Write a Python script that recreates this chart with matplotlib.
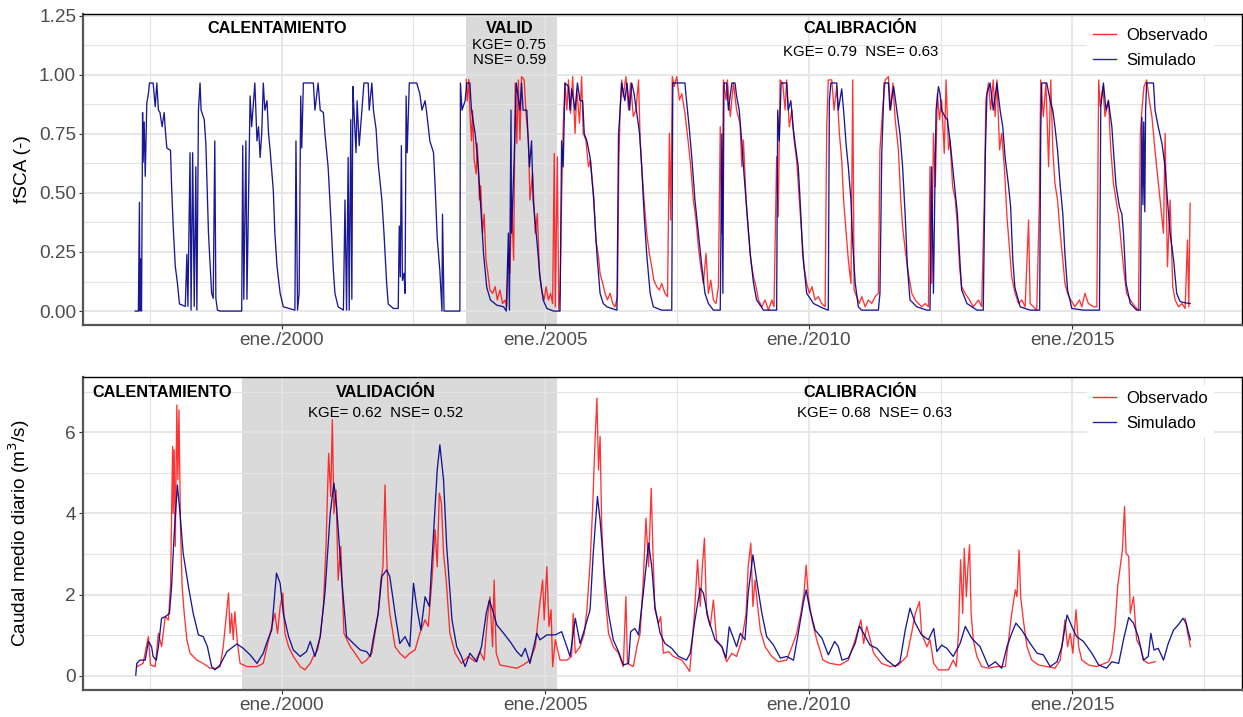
import numpy as np
import matplotlib
matplotlib.use("Agg")
import matplotlib.pyplot as plt
from matplotlib.lines import Line2D

plt.rcParams['font.family'] = ['Liberation Sans', 'DejaVu Sans']

# ---------------- datos (año decimal, valor) ----------------
# fSCA simulado
fsca_sim = [
    (1997.22, 0), (1997.28, 0), (1997.30, 0.46), (1997.31, 0), (1997.32, 0.22), (1997.34, 0),
    (1997.36, 0.84), (1997.37, 0.63), (1997.39, 0.80), (1997.41, 0.57), (1997.44, 0.88), (1997.47, 0.92),
    (1997.49, 0.965), (1997.56, 0.965), (1997.60, 0.865), (1997.63, 0.965), (1997.66, 0.85), (1997.69, 0.84),
    (1997.73, 0.78), (1997.77, 0.84), (1997.79, 0.77), (1997.82, 0.69), (1997.89, 0.68), (1997.91, 0.53),
    (1997.94, 0.36), (1997.98, 0.19), (1998.02, 0.12), (1998.06, 0.03), (1998.17, 0.02), (1998.20, 0.24),
    (1998.22, 0.02), (1998.26, 0.67), (1998.28, 0.004), (1998.31, 0.67), (1998.34, 0.02), (1998.37, 0.61),
    (1998.39, 0.004), (1998.42, 0.85), (1998.45, 0.965), (1998.47, 0.85), (1998.53, 0.81), (1998.56, 0.71),
    (1998.61, 0.33), (1998.64, 0.20), (1998.67, 0.075), (1998.70, 0.054), (1998.73, 0.72), (1998.75, 0.054),
    (1998.78, 0.004), (1998.83, 0), (1999.24, 0), (1999.26, 0.70), (1999.28, 0.05), (1999.32, 0.72),
    (1999.34, 0.05), (1999.40, 0.91), (1999.43, 0.78), (1999.49, 0.965), (1999.53, 0.72), (1999.56, 0.78),
    (1999.59, 0.65), (1999.62, 0.75), (1999.65, 0.965), (1999.68, 0.85), (1999.72, 0.89), (1999.75, 0.75),
    (1999.78, 0.68), (1999.84, 0.51), (1999.87, 0.33), (1999.91, 0.19), (1999.97, 0.075), (2000.03, 0.018),
    (2000.25, 0.004), (2000.27, 0.72), (2000.30, 0.004), (2000.33, 0.075), (2000.36, 0.91), (2000.38, 0.69),
    (2000.41, 0.965), (2000.60, 0.965), (2000.63, 0.85), (2000.69, 0.965), (2000.73, 0.85), (2000.79, 0.84),
    (2000.82, 0.75), (2000.88, 0.61), (2000.93, 0.40), (2000.98, 0.17), (2001.01, 0.075), (2001.07, 0.018),
    (2001.17, 0.004), (2001.20, 0.47), (2001.23, 0.004), (2001.26, 0.65), (2001.28, 0.004), (2001.31, 0.81),
    (2001.33, 0.05), (2001.35, 0.95), (2001.37, 0.85), (2001.41, 0.67), (2001.43, 0.89), (2001.47, 0.70),
    (2001.52, 0.85), (2001.56, 0.965), (2001.64, 0.965), (2001.66, 0.85), (2001.71, 0.965), (2001.74, 0.85),
    (2001.79, 0.77), (2001.83, 0.625), (2001.90, 0.47), (2001.94, 0.33), (2001.99, 0.12), (2002.02, 0.03),
    (2002.12, 0.011), (2002.21, 0.011), (2002.23, 0.36), (2002.25, 0.145), (2002.27, 0.70), (2002.29, 0.13),
    (2002.32, 0.16), (2002.34, 0.075), (2002.36, 0.91), (2002.38, 0.67), (2002.42, 0.965), (2002.56, 0.965),
    (2002.62, 0.92), (2002.66, 0.85), (2002.72, 0.89), (2002.75, 0.84), (2002.81, 0.72), (2002.88, 0.67),
    (2002.91, 0.53), (2002.95, 0.31), (2003.00, 0.17), (2003.04, 0), (2003.05, 0.41), (2003.08, 0),
    (2003.38, 0), (2003.39, 0.965), (2003.42, 0.85), (2003.48, 0.89), (2003.51, 0.965), (2003.57, 0.965),
    (2003.60, 0.85), (2003.67, 0.75), (2003.73, 0.61), (2003.775, 0.44), (2003.83, 0.24), (2003.89, 0.10),
    (2003.96, 0.047), (2004.08, 0.025), (2004.21, 0.018), (2004.26, 0), (2004.30, 0.33), (2004.32, 0.004),
    (2004.35, 0.85), (2004.36, 0.33), (2004.41, 0.64), (2004.45, 0.965), (2004.52, 0.85), (2004.55, 0.965),
    (2004.58, 0.85), (2004.65, 0.85), (2004.70, 0.61), (2004.74, 0.72), (2004.77, 0.47), (2004.84, 0.30),
    (2004.90, 0.145), (2004.96, 0.047), (2005.03, 0.011), (2005.155, 0), (2005.28, 0), (2005.31, 0.72),
    (2005.34, 0.61), (2005.375, 0.965), (2005.44, 0.95), (2005.47, 0.85), (2005.50, 0.94), (2005.565, 0.85),
    (2005.61, 0.965), (2005.66, 0.89), (2005.71, 0.89), (2005.74, 0.75), (2005.79, 0.72), (2005.85, 0.65),
    (2005.91, 0.50), (2005.98, 0.24), (2006.04, 0.075), (2006.10, 0.032), (2006.17, 0.018), (2006.26, 0.011),
    (2006.36, 0.004), (2006.39, 0.75), (2006.42, 0.85), (2006.45, 0.965), (2006.51, 0.89), (2006.55, 0.965),
    (2006.60, 0.85), (2006.64, 0.965), (2006.685, 0.92), (2006.735, 0.84), (2006.79, 0.75), (2006.83, 0.61),
    (2006.875, 0.41), (2006.925, 0.24), (2006.99, 0.075), (2007.05, 0.018), (2007.21, 0.004), (2007.40, 0.004),
    (2007.42, 0.965), (2007.65, 0.965), (2007.68, 0.89), (2007.73, 0.78), (2007.78, 0.65), (2007.84, 0.47),
    (2007.905, 0.33), (2007.97, 0.19), (2008.03, 0.075), (2008.095, 0.032), (2008.19, 0.004), (2008.32, 0.004),
    (2008.35, 0.75), (2008.37, 0.075), (2008.39, 0.965), (2008.44, 0.965), (2008.475, 0.85), (2008.54, 0.965),
    (2008.60, 0.965), (2008.63, 0.91), (2008.68, 0.85), (2008.73, 0.71), (2008.76, 0.61), (2008.82, 0.44),
    (2008.89, 0.24), (2008.95, 0.12), (2009.01, 0.047), (2009.14, 0.004), (2009.39, 0.004), (2009.41, 0.85),
    (2009.44, 0.72), (2009.475, 0.965), (2009.58, 0.965), (2009.61, 0.85), (2009.66, 0.89), (2009.70, 0.78),
    (2009.74, 0.71), (2009.80, 0.61), (2009.835, 0.47), (2009.885, 0.24), (2009.96, 0.075), (2010.09, 0.032),
    (2010.28, 0.011), (2010.37, 0.004), (2010.39, 0.89), (2010.42, 0.965), (2010.53, 0.965), (2010.56, 0.85),
    (2010.625, 0.94), (2010.66, 0.85), (2010.71, 0.70), (2010.75, 0.61), (2010.80, 0.47), (2010.83, 0.30),
    (2010.88, 0.12), (2010.94, 0.018), (2011.00, 0.004), (2011.32, 0.004), (2011.35, 0.075), (2011.385, 0.67),
    (2011.43, 0.965), (2011.51, 0.965), (2011.54, 0.85), (2011.61, 0.95), (2011.67, 0.85), (2011.73, 0.75),
    (2011.78, 0.61), (2011.83, 0.40), (2011.87, 0.19), (2011.92, 0.047), (2012.05, 0.018), (2012.24, 0.004),
    (2012.30, 0.004), (2012.33, 0.61), (2012.365, 0.075), (2012.40, 0.65), (2012.415, 0.85), (2012.46, 0.95),
    (2012.49, 0.92), (2012.52, 0.85), (2012.59, 0.82), (2012.63, 0.81), (2012.68, 0.72), (2012.73, 0.61),
    (2012.78, 0.50), (2012.82, 0.41), (2012.86, 0.24), (2012.90, 0.089), (2013.00, 0.032), (2013.19, 0.004),
    (2013.31, 0.004), (2013.35, 0.67), (2013.38, 0.92), (2013.44, 0.965), (2013.50, 0.85), (2013.57, 0.965),
    (2013.63, 0.85), (2013.68, 0.78), (2013.725, 0.65), (2013.79, 0.53), (2013.83, 0.44), (2013.87, 0.22),
    (2013.91, 0.10), (2014.01, 0.018), (2014.20, 0.004), (2014.38, 0.004), (2014.40, 0.75), (2014.42, 0.965),
    (2014.515, 0.965), (2014.58, 0.89), (2014.63, 0.85), (2014.67, 0.78), (2014.72, 0.68), (2014.77, 0.53),
    (2014.82, 0.41), (2014.86, 0.24), (2014.91, 0.089), (2014.99, 0.011), (2015.21, 0.004), (2015.515, 0.004),
    (2015.54, 0.865), (2015.59, 0.965), (2015.64, 0.85), (2015.685, 0.89), (2015.75, 0.78), (2015.79, 0.65),
    (2015.83, 0.53), (2015.895, 0.44), (2015.94, 0.41), (2015.97, 0.33), (2016.02, 0.117), (2016.10, 0.032),
    (2016.22, 0.004), (2016.29, 0.004), (2016.32, 0.82), (2016.34, 0.45), (2016.355, 0.80), (2016.375, 0.42),
    (2016.39, 0.85), (2016.41, 0.965), (2016.54, 0.965), (2016.57, 0.85), (2016.63, 0.78), (2016.70, 0.71),
    (2016.76, 0.61), (2016.805, 0.47), (2016.855, 0.33), (2016.92, 0.22), (2016.98, 0.075), (2017.045, 0.04),
    (2017.14, 0.035), (2017.235, 0.032),
]

# fSCA observado (MODIS)
fsca_obs = [
    (2003.50, 0.98), (2003.52, 0.89), (2003.55, 0.98), (2003.57, 0.84), (2003.60, 0.72), (2003.62, 0.85),
    (2003.65, 0.64), (2003.69, 0.58), (2003.71, 0.71), (2003.75, 0.47), (2003.775, 0.53), (2003.81, 0.33),
    (2003.84, 0.41), (2003.875, 0.22), (2003.92, 0.145), (2003.95, 0.089), (2004.00, 0.075), (2004.05, 0.103),
    (2004.09, 0.047), (2004.14, 0.089), (2004.19, 0.032), (2004.24, 0.047), (2004.27, 0.018), (2004.30, 0.244),
    (2004.33, 0.159), (2004.36, 0.47), (2004.40, 0.216), (2004.43, 0.965), (2004.46, 0.71), (2004.49, 0.978),
    (2004.52, 0.724), (2004.55, 0.992), (2004.60, 0.978), (2004.635, 0.837), (2004.68, 0.724), (2004.71, 0.47),
    (2004.76, 0.583), (2004.81, 0.329), (2004.85, 0.413), (2004.89, 0.159), (2004.93, 0.089), (2004.98, 0.047),
    (2005.015, 0.103), (2005.06, 0.047), (2005.10, 0.075), (2005.14, 0.032), (2005.17, 0.667), (2005.19, 0.018),
    (2005.23, 0.653), (2005.255, 0.004), (2005.28, 0.075), (2005.31, 0.47), (2005.34, 0.78), (2005.375, 0.965),
    (2005.41, 0.851), (2005.44, 0.978), (2005.48, 0.837), (2005.52, 0.992), (2005.565, 0.752), (2005.60, 0.936),
    (2005.65, 0.795), (2005.69, 0.992), (2005.72, 0.752), (2005.77, 0.724), (2005.82, 0.611), (2005.86, 0.639),
    (2005.90, 0.526), (2005.925, 0.47), (2005.96, 0.301), (2006.01, 0.23), (2006.04, 0.159), (2006.09, 0.117),
    (2006.135, 0.075), (2006.18, 0.047), (2006.23, 0.075), (2006.28, 0.032), (2006.325, 0.018), (2006.37, 0.061),
    (2006.395, 0.611), (2006.42, 0.851), (2006.45, 0.978), (2006.48, 0.907), (2006.53, 0.992), (2006.58, 0.851),
    (2006.62, 0.965), (2006.67, 0.823), (2006.72, 0.851), (2006.77, 0.978), (2006.80, 0.724), (2006.83, 0.611),
    (2006.875, 0.47), (2006.925, 0.329), (2006.975, 0.244), (2007.02, 0.188), (2007.06, 0.131), (2007.115, 0.103),
    (2007.165, 0.089), (2007.21, 0.117), (2007.27, 0.075), (2007.32, 0.061), (2007.355, 0.752), (2007.38, 0.385),
    (2007.41, 0.992), (2007.445, 0.95), (2007.495, 0.992), (2007.545, 0.893), (2007.59, 0.92), (2007.65, 0.837),
    (2007.715, 0.71), (2007.76, 0.611), (2007.81, 0.47), (2007.86, 0.385), (2007.905, 0.272), (2007.95, 0.188),
    (2008.00, 0.117), (2008.05, 0.244), (2008.095, 0.075), (2008.14, 0.131), (2008.19, 0.047), (2008.24, 0.032),
    (2008.285, 0.103), (2008.32, 0.78), (2008.35, 0.329), (2008.38, 0.978), (2008.43, 0.893), (2008.455, 0.978),
    (2008.51, 0.823), (2008.57, 0.965), (2008.63, 0.851), (2008.695, 0.795), (2008.73, 0.611), (2008.76, 0.724),
    (2008.81, 0.47), (2008.855, 0.329), (2008.90, 0.216), (2008.95, 0.145), (2009.00, 0.103), (2009.045, 0.047),
    (2009.11, 0.018), (2009.17, 0.047), (2009.235, 0.004), (2009.30, 0.047), (2009.34, 0.018), (2009.39, 0.653),
    (2009.42, 0.399), (2009.455, 0.978), (2009.505, 0.965), (2009.55, 0.851), (2009.58, 0.978), (2009.63, 0.78),
    (2009.68, 0.851), (2009.72, 0.724), (2009.77, 0.639), (2009.82, 0.47), (2009.865, 0.329), (2009.91, 0.188),
    (2009.96, 0.117), (2010.01, 0.075), (2010.06, 0.103), (2010.12, 0.047), (2010.18, 0.061), (2010.245, 0.032),
    (2010.31, 0.018), (2010.34, 0.78), (2010.37, 0.978), (2010.435, 0.978), (2010.48, 0.851), (2010.53, 0.95),
    (2010.58, 0.752), (2010.625, 0.639), (2010.66, 0.47), (2010.71, 0.329), (2010.75, 0.216), (2010.80, 0.117),
    (2010.834, 0.978), (2010.86, 0.089), (2010.91, 0.061), (2010.96, 0.032), (2011.005, 0.061), (2011.07, 0.018),
    (2011.13, 0.047), (2011.195, 0.032), (2011.26, 0.061), (2011.32, 0.075), (2011.35, 0.682), (2011.40, 0.851),
    (2011.45, 0.978), (2011.51, 0.992), (2011.555, 0.851), (2011.595, 0.965), (2011.64, 0.809), (2011.70, 0.682),
    (2011.745, 0.47), (2011.78, 0.357), (2011.83, 0.258), (2011.89, 0.159), (2011.955, 0.075), (2012.02, 0.047),
    (2012.08, 0.032), (2012.145, 0.018), (2012.21, 0.032), (2012.27, 0.018), (2012.30, 0.611), (2012.33, 0.117),
    (2012.365, 0.752), (2012.40, 0.526), (2012.44, 0.92), (2012.48, 0.809), (2012.52, 0.893), (2012.57, 0.667),
    (2012.605, 0.978), (2012.65, 0.682), (2012.68, 0.724), (2012.73, 0.526), (2012.78, 0.47), (2012.82, 0.357),
    (2012.86, 0.188), (2012.90, 0.103), (2012.965, 0.075), (2013.05, 0.047), (2013.12, 0.018), (2013.22, 0.047),
    (2013.28, 0.018), (2013.33, 0.47), (2013.36, 0.893), (2013.41, 0.965), (2013.45, 0.851), (2013.50, 0.978),
    (2013.535, 0.823), (2013.57, 0.978), (2013.62, 0.682), (2013.66, 0.752), (2013.71, 0.611), (2013.76, 0.399),
    (2013.81, 0.258), (2013.85, 0.145), (2013.915, 0.075), (2013.98, 0.032), (2014.04, 0.047), (2014.105, 0.018),
    (2014.17, 0.385), (2014.20, 0.032), (2014.26, 0.018), (2014.325, 0.004), (2014.375, 0.47), (2014.40, 0.978),
    (2014.45, 0.823), (2014.50, 0.965), (2014.55, 0.611), (2014.59, 0.978), (2014.63, 0.682), (2014.67, 0.54),
    (2014.72, 0.47), (2014.77, 0.329), (2014.82, 0.216), (2014.86, 0.117), (2014.91, 0.075), (2014.97, 0.047),
    (2015.05, 0.018), (2015.135, 0.047), (2015.18, 0.018), (2015.24, 0.075), (2015.305, 0.032), (2015.40, 0.018),
    (2015.465, 0.018), (2015.50, 0.978), (2015.53, 0.865), (2015.58, 0.95), (2015.62, 0.823), (2015.685, 0.893),
    (2015.73, 0.682), (2015.78, 0.54), (2015.83, 0.47), (2015.88, 0.399), (2015.92, 0.301), (2015.97, 0.188),
    (2016.03, 0.075), (2016.10, 0.047), (2016.19, 0.018), (2016.255, 0.004), (2016.29, 0.752), (2016.32, 0.851),
    (2016.36, 0.95), (2016.41, 0.978), (2016.46, 0.893), (2016.51, 0.823), (2016.55, 0.724), (2016.60, 0.611),
    (2016.665, 0.47), (2016.73, 0.329), (2016.76, 0.752), (2016.805, 0.188), (2016.855, 0.47), (2016.905, 0.103),
    (2016.95, 0.047), (2017.015, 0.018), (2017.08, 0.032), (2017.14, 0.011), (2017.185, 0.301), (2017.21, 0.018),
    (2017.235, 0.456),
]

# caudal medio diario simulado (m3/s)
q_sim = [
    (1997.23, 0.02), (1997.25, 0.31), (1997.31, 0.39), (1997.41, 0.39), (1997.47, 0.85), (1997.53, 0.72),
    (1997.56, 0.48), (1997.62, 0.39), (1997.66, 0.72), (1997.72, 1.42), (1997.79, 1.46), (1997.87, 1.54),
    (1997.91, 2.20), (1997.96, 3.51), (1998.02, 4.70), (1998.07, 4.00), (1998.13, 3.02), (1998.23, 2.20),
    (1998.32, 1.54), (1998.42, 1.01), (1998.51, 0.97), (1998.59, 0.72), (1998.67, 0.23), (1998.73, 0.15),
    (1998.83, 0.27), (1998.96, 0.60), (1999.15, 0.79), (1999.27, 0.68), (1999.40, 0.52), (1999.53, 0.31),
    (1999.65, 0.56), (1999.71, 0.80), (1999.81, 1.13), (1999.90, 2.53), (1999.97, 2.28), (2000.03, 1.54),
    (2000.13, 0.97), (2000.22, 0.64), (2000.35, 0.48), (2000.47, 0.60), (2000.54, 0.85), (2000.63, 0.48),
    (2000.73, 0.97), (2000.82, 2.04), (2000.92, 4.00), (2000.99, 4.75), (2001.04, 4.17), (2001.14, 2.36),
    (2001.23, 0.97), (2001.36, 0.80), (2001.49, 0.64), (2001.61, 0.60), (2001.68, 0.48), (2001.74, 0.93),
    (2001.83, 1.54), (2001.90, 2.45), (2001.99, 2.61), (2002.05, 2.45), (2002.15, 1.54), (2002.24, 0.80),
    (2002.34, 0.97), (2002.43, 0.72), (2002.50, 2.28), (2002.56, 1.71), (2002.64, 1.13), (2002.72, 1.95),
    (2002.80, 1.71), (2002.88, 3.51), (2002.95, 5.07), (2003.00, 5.69), (2003.07, 4.83), (2003.13, 3.19),
    (2003.23, 1.38), (2003.32, 0.72), (2003.41, 0.48), (2003.48, 0.23), (2003.57, 0.56), (2003.70, 0.35),
    (2003.79, 0.72), (2003.88, 1.54), (2003.94, 1.87), (2004.02, 1.54), (2004.08, 1.26), (2004.21, 1.05),
    (2004.33, 0.85), (2004.46, 0.60), (2004.55, 0.48), (2004.62, 0.68), (2004.71, 0.31), (2004.84, 1.05),
    (2004.90, 0.89), (2005.03, 1.01), (2005.19, 1.01), (2005.31, 1.09), (2005.41, 0.72), (2005.47, 0.48),
    (2005.57, 1.42), (2005.66, 0.80), (2005.75, 1.17), (2005.85, 1.63), (2005.91, 3.02), (2005.99, 4.42),
    (2006.04, 3.84), (2006.12, 2.53), (2006.20, 1.54), (2006.29, 0.89), (2006.39, 0.60), (2006.48, 0.27),
    (2006.58, 0.31), (2006.62, 1.09), (2006.70, 1.17), (2006.77, 1.01), (2006.86, 2.04), (2006.96, 3.27),
    (2007.02, 2.69), (2007.08, 1.71), (2007.18, 1.05), (2007.27, 0.80), (2007.40, 0.68), (2007.53, 0.48),
    (2007.68, 0.39), (2007.75, 0.56), (2007.84, 1.38), (2007.94, 2.16), (2008.00, 2.04), (2008.10, 1.38),
    (2008.22, 0.89), (2008.35, 0.72), (2008.43, 0.44), (2008.49, 1.21), (2008.56, 0.97), (2008.63, 0.72),
    (2008.70, 1.05), (2008.79, 0.89), (2008.85, 2.04), (2008.94, 2.98), (2009.01, 2.36), (2009.11, 1.54),
    (2009.20, 0.97), (2009.33, 0.76), (2009.46, 0.44), (2009.58, 0.48), (2009.71, 0.39), (2009.80, 1.05),
    (2009.90, 1.83), (2009.95, 2.12), (2010.02, 1.63), (2010.12, 1.13), (2010.25, 0.93), (2010.37, 0.52),
    (2010.49, 0.85), (2010.56, 0.72), (2010.63, 0.39), (2010.75, 0.44), (2010.88, 0.80), (2010.96, 1.23),
    (2011.04, 1.05), (2011.16, 0.76), (2011.29, 0.68), (2011.48, 0.39), (2011.64, 0.23), (2011.73, 0.35),
    (2011.83, 1.13), (2011.92, 1.67), (2012.02, 1.30), (2012.14, 1.01), (2012.27, 0.89), (2012.37, 1.17),
    (2012.43, 0.60), (2012.52, 0.76), (2012.62, 0.68), (2012.74, 0.48), (2012.87, 0.80), (2012.97, 1.22),
    (2013.09, 0.93), (2013.25, 0.72), (2013.41, 0.23), (2013.54, 0.35), (2013.66, 0.19), (2013.76, 0.72),
    (2013.85, 1.05), (2013.93, 1.30), (2014.04, 1.13), (2014.20, 0.80), (2014.33, 0.56), (2014.45, 0.52),
    (2014.58, 0.23), (2014.71, 0.35), (2014.80, 0.72), (2014.90, 1.50), (2014.99, 1.22), (2015.08, 0.97),
    (2015.21, 0.85), (2015.37, 0.56), (2015.50, 0.27), (2015.65, 0.19), (2015.75, 0.35), (2015.88, 0.31),
    (2015.97, 0.89), (2016.07, 1.44), (2016.16, 1.30), (2016.25, 0.97), (2016.35, 0.39), (2016.44, 0.48),
    (2016.49, 1.05), (2016.55, 0.64), (2016.63, 0.68), (2016.73, 0.39), (2016.82, 0.80), (2016.92, 1.13),
    (2017.01, 1.26), (2017.10, 1.42), (2017.16, 1.30), (2017.24, 0.89),
]

# caudal medio diario observado (m3/s)
q_obs = [
    (1997.25, 0.23), (1997.37, 0.31), (1997.47, 0.97), (1997.51, 0.27), (1997.60, 0.23), (1997.66, 1.05),
    (1997.72, 0.72), (1997.79, 1.46), (1997.85, 1.38), (1997.89, 2.20), (1997.93, 5.65), (1997.94, 4.00),
    (1997.96, 5.57), (1997.98, 3.19), (1998.01, 6.67), (1998.03, 4.83), (1998.05, 6.55), (1998.08, 3.60),
    (1998.11, 2.20), (1998.15, 1.54), (1998.20, 0.89), (1998.26, 0.56), (1998.39, 0.39), (1998.51, 0.31),
    (1998.64, 0.19), (1998.77, 0.19), (1998.83, 0.23), (1998.89, 0.72), (1998.94, 1.38), (1998.99, 2.04),
    (1999.02, 1.05), (1999.05, 1.54), (1999.08, 0.89), (1999.11, 1.58), (1999.16, 0.80), (1999.21, 0.31),
    (1999.34, 0.23), (1999.53, 0.23), (1999.65, 0.31), (1999.75, 0.89), (1999.81, 1.22), (1999.87, 1.54),
    (1999.92, 1.05), (1999.97, 1.71), (2000.02, 2.04), (2000.06, 1.05), (2000.13, 0.72), (2000.22, 0.48),
    (2000.35, 0.23), (2000.44, 0.15), (2000.54, 0.31), (2000.60, 0.48), (2000.68, 0.64), (2000.73, 0.97),
    (2000.79, 1.71), (2000.84, 3.19), (2000.89, 5.48), (2000.93, 4.42), (2000.96, 6.31), (2000.99, 4.00),
    (2001.03, 4.58), (2001.07, 2.36), (2001.12, 3.19), (2001.18, 1.05), (2001.30, 0.72), (2001.39, 0.56),
    (2001.52, 0.31), (2001.61, 0.39), (2001.71, 0.56), (2001.77, 1.05), (2001.83, 1.54), (2001.88, 2.36),
    (2001.92, 2.69), (2001.96, 4.70), (2001.99, 3.02), (2002.02, 1.95), (2002.05, 1.54), (2002.15, 0.72),
    (2002.24, 0.56), (2002.34, 0.44), (2002.43, 0.56), (2002.53, 0.64), (2002.62, 1.05), (2002.72, 1.38),
    (2002.78, 1.22), (2002.85, 2.36), (2002.91, 3.60), (2002.95, 2.69), (2002.99, 4.50), (2003.03, 4.25),
    (2003.07, 3.02), (2003.12, 2.36), (2003.19, 1.05), (2003.29, 0.56), (2003.41, 0.31), (2003.54, 0.48),
    (2003.67, 0.35), (2003.76, 0.60), (2003.84, 0.39), (2003.90, 1.38), (2003.95, 1.95), (2004.00, 0.72),
    (2004.03, 2.36), (2004.07, 0.56), (2004.14, 0.27), (2004.30, 0.23), (2004.46, 0.19), (2004.58, 0.27),
    (2004.71, 0.39), (2004.81, 0.72), (2004.89, 1.71), (2004.95, 2.36), (2004.98, 1.38), (2005.03, 2.69),
    (2005.07, 1.22), (2005.11, 1.63), (2005.14, 0.23), (2005.19, 0.89), (2005.28, 0.39), (2005.41, 0.39),
    (2005.50, 0.48), (2005.53, 1.54), (2005.57, 0.56), (2005.66, 0.72), (2005.74, 1.05), (2005.79, 1.63),
    (2005.85, 2.77), (2005.90, 4.17), (2005.94, 5.65), (2005.98, 6.84), (2006.01, 5.07), (2006.04, 5.90),
    (2006.07, 3.76), (2006.12, 2.20), (2006.20, 1.05), (2006.29, 0.72), (2006.39, 0.56), (2006.48, 0.23),
    (2006.53, 1.95), (2006.56, 0.31), (2006.67, 0.23), (2006.74, 0.72), (2006.80, 1.05), (2006.86, 2.36),
    (2006.91, 3.88), (2006.96, 2.69), (2007.01, 4.62), (2007.04, 3.19), (2007.08, 1.63), (2007.15, 1.30),
    (2007.19, 1.46), (2007.24, 0.56), (2007.34, 0.60), (2007.43, 0.48), (2007.59, 0.39), (2007.68, 0.23),
    (2007.74, 0.11), (2007.78, 0.72), (2007.83, 1.54), (2007.89, 2.86), (2007.94, 1.71), (2007.98, 2.69),
    (2008.02, 3.39), (2008.06, 1.54), (2008.13, 1.22), (2008.19, 1.87), (2008.25, 0.89), (2008.35, 0.72),
    (2008.44, 0.35), (2008.54, 0.56), (2008.63, 0.48), (2008.73, 0.89), (2008.81, 1.54), (2008.85, 2.69),
    (2008.90, 3.27), (2008.94, 1.71), (2008.98, 2.36), (2009.03, 1.71), (2009.08, 1.13), (2009.17, 0.72),
    (2009.30, 0.48), (2009.42, 0.35), (2009.58, 0.39), (2009.68, 0.72), (2009.77, 1.05), (2009.85, 1.54),
    (2009.91, 2.04), (2009.95, 2.73), (2009.99, 1.95), (2010.06, 1.38), (2010.15, 0.89), (2010.27, 0.39),
    (2010.40, 0.31), (2010.59, 0.27), (2010.75, 0.39), (2010.88, 0.89), (2010.99, 1.38), (2011.04, 0.80),
    (2011.10, 1.22), (2011.23, 0.56), (2011.38, 0.31), (2011.54, 0.23), (2011.70, 0.27), (2011.86, 0.48),
    (2011.95, 1.05), (2012.02, 1.54), (2012.10, 1.83), (2012.14, 1.05), (2012.24, 0.72), (2012.30, 0.89),
    (2012.37, 0.31), (2012.46, 0.15), (2012.52, 0.15), (2012.65, 0.15), (2012.74, 0.39), (2012.80, 0.23),
    (2012.84, 1.05), (2012.88, 2.86), (2012.92, 1.54), (2012.95, 3.14), (2012.99, 1.95), (2013.02, 2.69),
    (2013.05, 3.23), (2013.08, 1.54), (2013.12, 0.89), (2013.19, 0.48), (2013.28, 0.23), (2013.41, 0.19),
    (2013.57, 0.23), (2013.73, 0.23), (2013.79, 0.89), (2013.85, 1.54), (2013.92, 2.12), (2013.95, 1.95),
    (2013.99, 3.10), (2014.02, 1.95), (2014.07, 1.38), (2014.14, 0.72), (2014.23, 0.39), (2014.36, 0.27),
    (2014.52, 0.23), (2014.67, 0.19), (2014.77, 0.39), (2014.82, 0.89), (2014.86, 1.38), (2014.91, 0.72),
    (2014.96, 1.05), (2015.01, 0.56), (2015.07, 1.63), (2015.12, 0.72), (2015.18, 0.39), (2015.31, 0.27),
    (2015.46, 0.23), (2015.69, 0.35), (2015.75, 0.56), (2015.81, 1.22), (2015.86, 2.20), (2015.91, 2.69),
    (2015.95, 3.10), (2015.99, 4.17), (2016.02, 3.02), (2016.07, 2.94), (2016.10, 1.54), (2016.16, 1.95),
    (2016.22, 0.89), (2016.29, 0.72), (2016.35, 0.39), (2016.44, 0.31), (2016.57, 0.35), (2016.80, np.nan),
    (2017.14, 1.42), (2017.19, 1.05), (2017.24, 0.72),
]

# periodos sombreados (validación)
valid_top = (2003.50, 2005.22)
valid_bot = (1999.25, 2005.22)

year_ticks = [2000, 2005, 2010, 2015]
year_labels = ['ene./2000', 'ene./2005', 'ene./2010', 'ene./2015']

# ---------------- figura ----------------
c_obs = '#FF0000'
c_sim = '#00008B'
fig = plt.figure(figsize=(12.43, 7.17), dpi=100)
ax1 = fig.add_axes([0.0668, 0.5467, 0.932, 0.4338])
ax2 = fig.add_axes([0.0668, 0.0377, 0.932, 0.4365])


def estilo(ax, ylim, yticks, yminor, ylabels):
    ax.set_xlim(1996.23, 2018.21)
    ax.set_ylim(*ylim)
    ax.set_xticks(year_ticks)
    ax.set_xticklabels(year_labels)
    ax.set_xticks([1997.5, 2002.5, 2007.5, 2012.5, 2017.5], minor=True)
    ax.set_yticks(yticks)
    ax.set_yticklabels(ylabels)
    ax.set_yticks(yminor, minor=True)
    ax.set_axisbelow(True)
    ax.grid(which='major', color='#E3E3E3', lw=1.2)
    ax.grid(which='minor', color='#E3E3E3', lw=0.8)
    ax.tick_params(which='major', length=3, color='#333333', labelsize=13.7,
                   labelcolor='#4D4D4D', pad=2)
    ax.tick_params(which='minor', length=0)
    for s in ['top', 'right']:
        ax.spines[s].set_color('black')
        ax.spines[s].set_linewidth(1.0)
    for s in ['left', 'bottom']:
        ax.spines[s].set_color('#555555')
        ax.spines[s].set_linewidth(1.6)


def leyenda(ax, ytop):
    h = [Line2D([], [], color=c_obs, lw=1.0, alpha=0.85),
         Line2D([], [], color=c_sim, lw=1.0, alpha=0.85)]
    leg = ax.legend(h, ['Observado', 'Simulado'], loc='upper left',
                    bbox_to_anchor=(0.867, ytop), fontsize=12, handlelength=1.35,
                    handletextpad=0.65, labelspacing=0.62, borderpad=0.35,
                    borderaxespad=0, frameon=True, fancybox=False)
    leg.get_frame().set_facecolor('white')
    leg.get_frame().set_edgecolor('none')
    leg.get_frame().set_alpha(1)


# --- panel superior: fSCA ---
ax1.axvspan(*valid_top, color='#DADADA', lw=0, zorder=0.3)
t, v = zip(*fsca_obs)
ax1.plot(t, v, color=c_obs, lw=0.95, alpha=0.8, zorder=2)
t, v = zip(*fsca_sim)
ax1.plot(t, v, color=c_sim, lw=0.95, alpha=0.9, zorder=3)
estilo(ax1, (-0.059, 1.257), [0, 0.25, 0.5, 0.75, 1.0, 1.25],
       [0.125, 0.375, 0.625, 0.875, 1.125],
       ['0.00', '0.25', '0.50', '0.75', '1.00', '1.25'])
ax1.set_ylabel('fSCA (-)', fontsize=13.7, labelpad=6)
ax1.text(1999.91, 1.194, 'CALENTAMIENTO', ha='center', va='center', fontsize=11.7, fontweight='bold')
ax1.text(2004.32, 1.194, 'VALID', ha='center', va='center', fontsize=11.7, fontweight='bold')
ax1.text(2004.32, 1.126, 'KGE= 0.75', ha='center', va='center', fontsize=10.8)
ax1.text(2004.32, 1.063, 'NSE= 0.59', ha='center', va='center', fontsize=10.8)
ax1.text(2010.98, 1.194, 'CALIBRACIÓN', ha='center', va='center', fontsize=11.7, fontweight='bold')
ax1.text(2010.98, 1.097, 'KGE= 0.79  NSE= 0.63', ha='center', va='center', fontsize=10.8)
leyenda(ax1, 0.975)

# --- panel inferior: caudal ---
ax2.axvspan(*valid_bot, color='#DADADA', lw=0, zorder=0.3)
t, v = zip(*q_obs)
ax2.plot(t, v, color=c_obs, lw=0.95, alpha=0.8, zorder=2)
t, v = zip(*q_sim)
ax2.plot(t, v, color=c_sim, lw=0.95, alpha=0.9, zorder=3)
estilo(ax2, (-0.345, 7.36), [0, 2, 4, 6], [1, 3, 5, 7], ['0', '2', '4', '6'])
ax2.set_ylabel('Caudal medio diario (m$^3$/s)', fontsize=13.7, labelpad=24)
ax2.text(1997.73, 6.97, 'CALENTAMIENTO', ha='center', va='center', fontsize=11.7, fontweight='bold')
ax2.text(2001.98, 6.97, 'VALIDACIÓN', ha='center', va='center', fontsize=11.7, fontweight='bold')
ax2.text(2001.98, 6.48, 'KGE= 0.62  NSE= 0.52', ha='center', va='center', fontsize=10.8)
ax2.text(2010.98, 6.97, 'CALIBRACIÓN', ha='center', va='center', fontsize=11.7, fontweight='bold')
ax2.text(2011.24, 6.48, 'KGE= 0.68  NSE= 0.63', ha='center', va='center', fontsize=10.8)
leyenda(ax2, 0.975)

fig.savefig('out.png', dpi=100)
